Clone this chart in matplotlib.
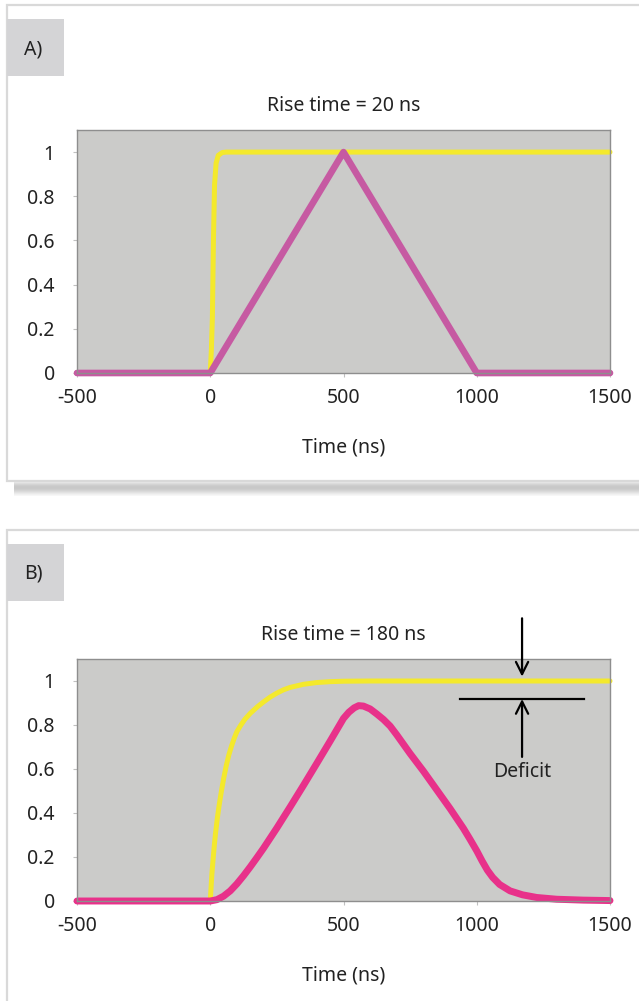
import matplotlib.pyplot as plt
from matplotlib.patches import Rectangle

plt.rcParams['font.family'] = ['Noto Sans', 'DejaVu Sans']

# Panel A: rise time 20 ns
time_a_step = [-500, 0, 4, 8, 12, 16, 22, 30, 45, 60, 1500]
step_a = [0, 0, 0.1, 0.25, 0.6, 0.85, 0.95, 0.985, 0.998, 1.0, 1.0]
time_a_out = [-500, 0, 500, 1000, 1500]
out_a = [0, 0, 1.0, 0, 0]

# Panel B: rise time 180 ns
time_b_step = [-500, 0, 3, 6, 10, 15, 20, 27, 34, 42, 50, 60, 70, 80, 90, 100,
               115, 130, 150, 178, 200, 225, 250, 275, 300, 350, 400, 450, 500,
               600, 1500]
step_b = [0, 0, 0.06, 0.12, 0.18, 0.25, 0.31, 0.38, 0.44, 0.5, 0.555, 0.615,
          0.665, 0.705, 0.74, 0.77, 0.8, 0.826, 0.853, 0.884, 0.905, 0.927,
          0.945, 0.96, 0.971, 0.985, 0.993, 0.997, 0.999, 1.0, 1.0]
time_b_out = [-500, 0, 25, 50, 75, 100, 125, 150, 175, 200, 250, 300, 350, 400,
              450, 500, 520, 540, 557, 575, 600, 625, 650, 675, 700, 750, 800,
              850, 900, 925, 950, 975, 1000, 1020, 1040, 1060, 1086, 1125, 1172,
              1225, 1300, 1400, 1500]
out_b = [0, 0, 0.006, 0.022, 0.046, 0.078, 0.115, 0.155, 0.197, 0.24, 0.332,
         0.428, 0.526, 0.626, 0.727, 0.83, 0.858, 0.878, 0.888, 0.886, 0.873,
         0.85, 0.825, 0.795, 0.755, 0.67, 0.59, 0.505, 0.42, 0.375, 0.33,
         0.28, 0.228, 0.182, 0.14, 0.107, 0.075, 0.046, 0.028, 0.016, 0.008,
         0.004, 0.002]

x_ticks = [-500, 0, 500, 1000, 1500]
y_ticks = [0, 0.2, 0.4, 0.6, 0.8, 1.0]
y_labels = ['0', '0.2', '0.4', '0.6', '0.8', '1']

W, H = 639, 1001
FS = 14
TXT = '#222222'
fig = plt.figure(figsize=(W / 100, H / 100), dpi=100)


def box(x0, y0, x1, y1, **kw):
    # rectangle in pixel coords measured from the top-left corner
    fig.add_artist(Rectangle((x0 / W, 1 - y1 / H), (x1 - x0) / W, (y1 - y0) / H,
                             transform=fig.transFigure, zorder=-5, **kw))


# panel frames
box(7, 5, 645, 481, facecolor='white', edgecolor='#d9d9d9', lw=1.6)
shade = ['#e4e4e4', '#dcdcdc', '#d4d4d4', '#cdcdcd', '#c9c9c9', '#c8c8c8',
         '#c9c9c9', '#cdcdcd', '#d3d3d3', '#dadada', '#e2e2e2', '#eaeaea',
         '#f1f1f1', '#f7f7f7']
for i, c in enumerate(shade):
    box(14, 482 + i, 645, 483 + i, facecolor=c, edgecolor='none')
box(7, 530, 645, 1010, facecolor='white', edgecolor='#d9d9d9', lw=1.6)

# panel labels
box(7, 19, 64, 76, facecolor='#d4d4d6', edgecolor='none')
box(7, 544, 64, 601, facecolor='#d4d4d6', edgecolor='none')
fig.text(24 / W, 1 - 49 / H, 'A)', fontsize=FS, va='center', color=TXT)
fig.text(24 / W, 1 - 574 / H, 'B)', fontsize=FS, va='center', color=TXT)


def setup(ax, title):
    ax.set_facecolor('#cbcbc9')
    ax.set_xlim(-500, 1500)
    ax.set_ylim(0, 1.1)
    ax.set_xticks(x_ticks)
    ax.set_xticklabels([str(t) for t in x_ticks])
    ax.set_yticks(y_ticks)
    ax.set_yticklabels(y_labels)
    for s in ax.spines.values():
        s.set_color('#8e8e8e')
        s.set_linewidth(1.0)
    ax.tick_params(axis='x', length=3, color='#c0c0c0', pad=8,
                   labelsize=FS, labelcolor=TXT)
    ax.tick_params(axis='y', length=3, color='#c0c0c0', pad=13,
                   labelsize=FS, labelcolor=TXT)
    ax.text(0.5, 1 + 24 / 243, title, transform=ax.transAxes, ha='center',
            va='center', fontsize=FS, color=TXT)
    ax.text(0.5, -75 / 243, 'Time (ns)', transform=ax.transAxes, ha='center',
            va='center', fontsize=FS, color=TXT)


ax_a = fig.add_axes([77 / W, 1 - 373 / H, 533 / W, 243 / H])
setup(ax_a, 'Rise time = 20 ns')
ax_a.plot(time_a_step, step_a, color='#f4e92c', lw=3.6, clip_on=False,
          solid_capstyle='round', solid_joinstyle='round')
ax_a.plot(time_a_out, out_a, color='#c65aa2', lw=4.8, clip_on=False,
          solid_capstyle='round')

ax_b = fig.add_axes([77 / W, 1 - 901 / H, 533 / W, 242 / H])
setup(ax_b, 'Rise time = 180 ns')
ax_b.plot(time_b_step, step_b, color='#f4e92c', lw=3.6, clip_on=False,
          solid_capstyle='round', solid_joinstyle='round')
ax_b.plot(time_b_out, out_b, color='#e8318a', lw=5.0, clip_on=False,
          solid_capstyle='round', solid_joinstyle='round')

# deficit marker
arrow_x = 1170
ax_b.annotate('', xy=(arrow_x, 1.02), xytext=(arrow_x, 1.285),
              arrowprops=dict(arrowstyle='->', lw=1.6, color='black',
                              mutation_scale=22, shrinkA=0, shrinkB=0),
              annotation_clip=False)
ax_b.annotate('', xy=(arrow_x, 0.918), xytext=(arrow_x, 0.655),
              arrowprops=dict(arrowstyle='->', lw=1.6, color='black',
                              mutation_scale=22, shrinkA=0, shrinkB=0),
              annotation_clip=False)
ax_b.plot([936, 1401], [0.918, 0.918], color='black', lw=1.6)
ax_b.text(arrow_x, 0.585, 'Deficit', ha='center', va='center', fontsize=FS,
          color=TXT)

fig.savefig('out.png', dpi=100)
